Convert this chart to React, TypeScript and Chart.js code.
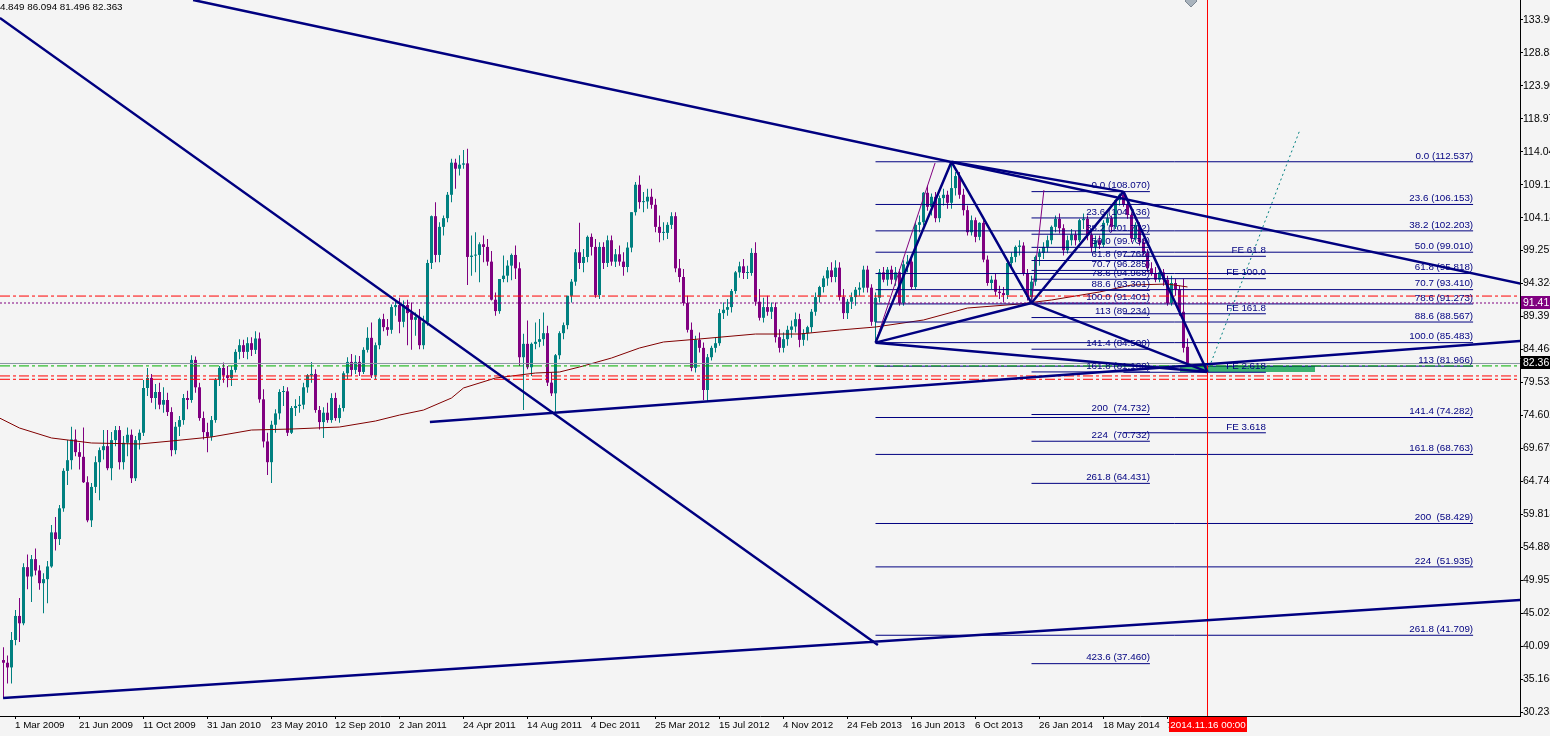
import React, { useEffect, useRef } from 'react';
import { Chart, registerables } from 'chart.js';
Chart.register(...registerables);

// ---------------- DATA ----------------
const FIRST_BAR = -3; // bar index of first candle (index 0 = 1 Mar 2009, weekly)

// weekly candles [open, high, low, close]
const c2009 = [
  [38.0,39.9,32.3,37.6],[37.6,38.7,34.5,36.9],[36.9,42.2,34.5,41.0],[41.0,45.5,40.2,44.6],[44.6,47.3,40.7,43.5],
  [43.5,52.5,43.2,51.9],[51.9,53.8,48.6,50.5],[50.5,53.7,46.7,53.1],[53.1,54.7,50.7,51.4],[51.4,52.2,48.5,49.5],
  [49.5,51.0,45.0,50.1],[50.1,52.8,46.5,52.0],[52.0,58.2,51.8,57.1],[57.1,59.4,54.4,56.1],[56.1,61.2,55.2,60.7],
  [60.7,66.7,60.2,66.3],[66.3,70.9,64.2,67.9],[67.9,72.9,66.5,71.0],[71.0,72.5,68.5,69.1],[69.1,70.5,66.5,68.4],
  [68.4,72.8,64.5,64.6],[64.6,65.5,58.6,58.9],[58.9,64.5,57.9,63.9],[63.9,68.5,63.0,67.6],[67.6,69.8,61.9,69.4],
  [69.4,72.4,68.0,70.0],[70.0,72.4,66.4,66.7],[66.7,72.1,64.9,70.9],[70.9,73.0,70.0,72.4],[72.4,73.0,66.5,67.6],
  [67.6,71.5,66.5,70.5],[70.5,72.8,68.5,71.7],[71.7,72.5,64.5,65.2],[65.2,71.5,64.8,70.9],[70.9,72.5,69.5,72.0],
  [72.0,79.9,71.5,78.7],[78.7,81.7,77.5,80.2],[80.2,80.8,76.5,77.2],[77.2,79.3,75.5,78.1],[78.1,79.5,75.5,76.2],
  [76.2,78.8,75.0,76.9],[76.9,78.0,74.5,75.1],[75.1,75.8,68.5,69.4],[69.4,73.6,68.8,72.9],[72.9,74.5,71.5,73.9],
  [73.9,77.8,73.2,77.2],[77.2,78.3,75.5,76.9],
];
const c2010 = [
  [76.9,83.6,76.5,82.9],[82.9,83.4,78.0,78.8],[78.8,79.5,73.8,74.2],[74.2,75.2,71.0,72.1],[72.1,73.5,69.1,71.4],
  [71.4,74.5,70.8,73.9],[73.9,80.2,73.5,79.9],[79.9,82.0,79.0,81.7],[81.7,82.5,79.5,80.6],[80.6,82.0,78.8,80.2],
  [80.2,82.0,79.0,81.4],[81.4,84.5,81.0,84.1],[84.1,86.0,83.0,85.1],[85.1,85.9,83.2,84.1],[84.1,86.3,83.0,85.4],
  [85.4,86.3,83.5,84.4],[84.4,87.2,83.8,86.1],[86.1,87.0,76.5,77.0],[77.0,78.5,69.8,70.7],[70.7,72.0,65.7,67.6],
  [67.6,73.8,64.5,73.2],[73.2,75.5,72.0,74.9],[74.9,78.5,74.0,78.1],[78.1,79.0,76.0,78.2],[78.2,78.8,71.5,72.0],
  [72.0,76.0,71.8,75.7],[75.7,77.0,74.5,76.0],[76.0,77.5,75.0,76.2],[76.2,79.5,75.5,78.8],[78.8,80.8,78.0,80.6],
  [80.6,82.6,79.5,80.8],[80.8,81.5,75.0,75.4],[75.4,76.0,72.5,73.6],[73.6,75.8,71.2,75.0],[75.0,76.5,73.5,73.9],
  [73.9,77.9,73.5,77.2],[77.2,78.0,73.8,74.2],[74.2,76.2,73.5,75.7],[75.7,81.2,75.2,80.9],[80.9,83.3,80.0,82.6],
  [82.6,83.8,80.5,81.4],[81.4,83.6,80.8,82.6],[82.6,83.5,80.5,81.1],[81.1,84.8,80.8,84.4],[84.4,87.8,84.0,86.2],
  [86.2,88.5,80.2,80.6],[80.6,85.5,80.0,85.1],[85.1,89.2,84.5,89.0],[89.0,89.8,87.2,87.8],[87.8,89.0,86.5,87.4],
  [87.4,91.2,86.8,90.8],[90.8,91.8,89.5,91.1],
];
const c2011 = [
  [91.1,92.2,86.9,88.6],[88.6,91.8,87.8,91.1],[91.1,91.9,85.1,89.9],[89.9,91.5,84.4,88.9],[88.9,90.0,86.5,89.3],
  [89.3,90.5,84.5,85.1],[85.1,89.5,84.5,88.5],[88.5,97.9,88.0,97.4],[97.4,104.5,96.5,104.4],[104.4,106.5,97.5,98.6],
  [98.6,103.5,97.5,102.8],[102.8,104.5,101.5,104.1],[104.1,108.0,103.5,107.6],[107.6,113.0,106.5,112.4],[112.4,113.0,108.5,111.5],
  [111.5,113.5,110.5,112.1],[112.1,114.3,111.5,112.3],[112.3,114.5,94.1,98.3],[98.3,101.5,95.5,98.5],[98.5,102.0,96.0,98.6],
  [98.6,100.5,94.5,100.2],[100.2,101.5,97.5,99.8],[99.8,101.0,97.0,97.6],[97.6,99.2,91.8,91.9],[91.9,93.0,89.5,90.2],
  [90.2,95.0,89.8,95.0],[95.0,98.5,94.5,95.5],[95.5,97.8,94.5,97.0],[97.0,98.8,94.8,98.6],[98.6,100.0,95.0,96.6],
  [96.6,97.5,82.0,83.3],[83.3,86.8,75.4,85.3],[85.3,88.8,81.5,81.8],[81.8,85.5,80.5,85.3],[85.3,88.5,84.5,85.6],
  [85.6,89.0,84.8,86.0],[86.0,90.0,85.0,86.9],[86.9,88.0,79.0,79.5],[79.5,81.0,77.5,77.9],[77.9,83.8,74.9,83.6],
  [83.6,87.2,83.0,86.9],[86.9,88.5,86.0,88.1],[88.1,92.5,87.5,92.5],[92.5,95.0,91.5,94.6],[94.6,99.5,94.0,99.0],
  [99.0,103.4,96.5,97.4],[97.4,99.5,96.0,98.3],[98.3,101.5,97.5,101.3],[101.3,101.8,98.5,99.8],[99.8,101.0,92.2,92.6],
  [92.6,100.5,92.0,99.8],[99.8,100.5,96.5,97.4],
];
const c2012 = [
  [97.4,101.5,96.8,100.8],[100.8,101.5,97.0,97.6],[97.6,99.5,96.8,98.7],[98.7,100.0,97.0,97.6],[97.6,99.0,95.5,96.8],
  [96.8,100.5,96.0,99.7],[99.7,105.0,99.0,105.0],[105.0,109.5,104.5,109.1],[109.1,110.5,105.5,106.5],[106.5,108.0,105.0,106.6],
  [106.6,108.5,105.5,107.3],[107.3,108.5,105.5,106.1],[106.1,107.0,102.0,102.8],[102.8,104.5,100.5,101.9],[101.9,103.5,100.8,101.9],
  [101.9,103.5,101.0,103.1],[103.1,105.0,102.5,104.4],[104.4,105.0,96.0,96.6],[96.6,98.0,94.5,95.3],[95.3,96.5,91.0,91.4],
  [91.4,92.5,87.0,87.4],[87.4,88.5,81.2,81.7],[81.7,86.5,81.0,85.9],[85.9,87.0,84.0,84.7],[84.7,85.5,76.9,78.4],
  [78.4,83.8,76.6,83.3],[83.3,85.0,82.8,84.7],[84.7,86.2,84.0,85.4],[85.4,90.5,85.0,89.9],[89.9,91.5,89.0,90.4],
  [90.4,92.0,89.5,90.8],[90.8,93.5,90.0,93.2],[93.2,96.2,92.8,96.0],[96.0,97.6,95.2,96.9],[96.9,98.0,95.0,95.9],
  [95.9,97.0,95.0,95.9],[95.9,99.6,95.5,98.9],[98.9,100.5,91.0,91.6],[91.6,93.5,88.8,89.2],[89.2,92.2,88.5,90.8],
  [90.8,92.5,89.5,90.1],[90.1,91.5,89.0,90.8],[90.8,91.5,85.5,86.3],[86.3,87.5,84.0,84.7],[84.7,87.0,84.0,86.0],
  [86.0,88.0,85.0,87.4],[87.4,88.8,86.2,87.9],[87.9,90.0,87.0,89.0],[89.0,89.8,84.8,85.9],[85.9,87.5,85.0,86.9],
  [86.9,88.0,85.8,87.8],[87.8,90.5,87.0,90.1],
];
const c2013 = [
  [90.1,93.0,89.5,92.3],[92.3,94.0,91.5,93.8],[93.8,95.5,93.0,95.1],[95.1,96.8,94.0,96.3],[96.3,97.5,94.5,95.3],
  [95.3,97.8,94.5,96.7],[96.7,97.5,91.8,92.3],[92.3,93.5,89.0,89.9],[89.9,92.0,89.0,91.6],[91.6,93.0,90.5,92.3],
  [92.3,93.8,91.0,93.4],[93.4,94.5,92.5,93.7],[93.7,97.0,93.0,96.4],[96.4,97.0,93.0,93.7],[93.7,94.2,88.0,88.6],
  [88.6,93.0,85.483,92.2],[92.2,96.5,91.5,96.0],[96.0,96.8,94.5,94.9],[94.9,96.8,94.0,96.4],[96.4,97.0,94.2,94.9],
  [94.9,96.8,94.0,96.0],[96.0,96.5,91.0,91.4],[91.4,97.8,91.0,97.2],[97.2,98.6,96.0,97.6],[97.6,98.2,93.5,93.8],
  [93.8,103.5,93.5,103.1],[103.1,104.5,102.0,103.5],[103.5,108.0,103.0,107.9],[107.9,109.0,105.2,105.8],[105.8,107.8,104.5,107.3],
  [107.3,108.0,103.5,104.1],[104.1,107.5,103.5,107.1],[107.1,108.5,106.0,107.6],[107.6,108.2,105.5,106.4],[106.4,112.537,105.5,108.6],
  [108.6,111.0,107.5,110.4],[110.4,111.0,107.0,107.6],[107.6,108.5,104.5,105.3],[105.3,106.0,101.5,102.0],[102.0,104.5,101.5,103.8],
  [103.8,104.2,100.5,101.3],[101.3,103.5,100.8,103.4],[103.4,103.8,97.5,97.9],[97.9,98.5,94.0,94.4],[94.4,95.5,93.5,94.9],
  [94.9,95.8,92.5,93.1],[93.1,94.0,92.0,92.9],[92.9,93.8,91.5,92.6],[92.6,97.5,92.0,97.4],[97.4,99.0,96.5,98.3],
  [98.3,100.0,97.5,99.8],[99.8,100.8,98.5,100.0],
];
const c2014 = [
  [100.0,100.5,95.5,95.9],[95.9,96.5,91.8,92.3],[92.3,95.5,91.401,94.6],[94.6,98.5,94.0,98.3],[98.3,99.5,97.0,98.9],
  [98.9,100.5,98.0,99.8],[99.8,101.5,99.0,100.8],[100.8,103.0,100.2,102.8],[102.8,104.5,102.0,104.0],[104.0,104.8,101.8,102.6],
  [102.6,103.2,98.5,99.3],[99.3,101.5,98.8,100.8],[100.8,102.5,100.0,101.6],[101.6,102.2,100.0,100.8],[100.8,104.0,100.5,103.8],
  [103.8,104.8,102.5,104.0],[104.0,104.5,100.8,101.6],[101.6,102.0,99.0,99.8],[99.8,101.5,99.0,100.8],[100.8,101.5,99.5,100.1],
  [100.1,103.8,99.8,103.4],[103.4,104.8,103.0,104.1],[104.1,104.5,102.0,102.8],[102.8,106.9,102.5,106.8],[106.8,107.8,106.0,107.6],
  [107.6,108.07,105.8,106.1],[106.1,106.8,104.0,104.6],[104.6,105.0,100.5,101.1],[101.1,103.5,100.5,103.1],[103.1,103.5,100.0,100.5],
  [100.5,101.0,98.5,98.9],[98.9,99.5,96.0,96.6],[96.6,97.5,95.5,95.9],[95.9,96.8,94.5,94.9],[94.9,96.8,94.5,96.0],
  [96.0,96.5,94.0,94.9],[94.9,95.5,91.0,91.4],[91.4,95.5,91.0,94.4],[94.4,95.0,92.5,93.4],[93.4,94.0,89.5,90.1],
  [90.1,95.0,84.0,84.7],[84.849,86.094,81.496,82.363],
];

// moving average (bar index, value)
const maIdx = [-4,1,9,19,31,39,49,59,69,81,90,96,102,109,112,120,130,136,141,149,156,162,171,185,196,206,215,227,238,251,259,271,279,288,293];
const maVal = [74.21,72.71,71.22,70.47,70.32,70.77,71.37,72.41,72.56,72.86,73.76,74.65,75.40,77.20,78.70,80.19,80.94,81.09,81.84,83.18,84.68,85.58,86.03,86.77,86.77,87.37,87.82,88.87,90.66,91.26,91.86,93.06,94.10,94.25,93.81];

// axis ticks
const xTickIdx = [0,16,32,48,64,80,96,112,128,144,160,176,192,208,224,240,256,272,288];
const xTickLabels = ['1 Mar 2009','21 Jun 2009','11 Oct 2009','31 Jan 2010','23 May 2010','12 Sep 2010','2 Jan 2011','24 Apr 2011','14 Aug 2011','4 Dec 2011','25 Mar 2012','15 Jul 2012','4 Nov 2012','24 Feb 2013','16 Jun 2013','6 Oct 2013','26 Jan 2014','18 May 2014','7 Sep 2014'];
const yTickVals = [30.23,35.16,40.09,45.02,49.95,54.88,59.81,64.74,69.67,74.60,79.53,84.46,89.39,94.32,99.25,104.18,109.11,114.04,118.97,123.90,128.83,133.76];
const yTickLabels = ['30.235','35.168','40.091','45.024','49.957','54.880','59.813','64.746','69.679','74.602','79.535','84.468','89.391','94.324','99.257','104.180','109.113','114.046','118.979','123.902','128.835','133.908'];

// horizontal levels
const redLevels = [92.45, 80.5, 80.0];
const purpleLevel = 91.41;
const greenLevel = 82.0;
const bidPrice = 82.363;
const ohlcText = '84.849 86.094 81.496 82.363';
const cursorIdx = 298;
const cursorLabel = '2014.11.16 00:00';

// fibonacci retracement set A
const fibAPrices = [112.537,106.153,102.203,99.010,95.818,93.410,91.273,88.567,85.483,81.966,74.282,68.763,58.429,51.935,41.709];
const fibALabels = ['0.0 (112.537)','23.6 (106.153)','38.2 (102.203)','50.0 (99.010)','61.8 (95.818)','70.7 (93.410)','78.6 (91.273)','88.6 (88.567)','100.0 (85.483)','113 (81.966)','141.4 (74.282)','161.8 (68.763)','200  (58.429)','224  (51.935)','261.8 (41.709)'];
const fibASpan = [215, 364.4];
// fibonacci retracement set B
const fibBPrices = [108.070,104.136,101.702,99.736,97.768,96.285,94.968,93.301,91.401,89.234,84.500,81.100,74.732,70.732,64.431,37.460];
const fibBLabels = ['0.0 (108.070)','23.6 (104.136)','38.2 (101.702)','50.0 (99.736)','61.8 (97.768)','70.7 (96.285)','78.6 (94.968)','88.6 (93.301)','100.0 (91.401)','113 (89.234)','141.4 (84.500)','161.8 (81.100)','200  (74.732)','224  (70.732)','261.8 (64.431)','423.6 (37.460)'];
const fibBSpan = [254, 283.6];
// fibonacci expansion
const fePrices = [98.4, 95.05, 89.8, 81.05, 72.0];
const feLabels = ['FE 61.8','FE 100.0','FE 161.8','FE 2.618','FE 3.618'];
const feSpan = [277, 312.6];

// harmonic pattern points X A B C D
const patIdx = [215, 234, 254, 277, 298];
const patVal = [85.483, 112.537, 91.401, 108.07, 81.1];
const patLinks = [[0,1],[1,2],[2,3],[3,4],[0,2],[2,4],[1,3],[0,4]];

// trend lines [x1, y1, x2, y2]
const trendLines = [
  [-3.9, 134.05, 215.6, 40.25],
  [44.4, 136.74, 376.2, 94.31],
  [-3.1, 32.32, 376.2, 46.98],
  [103.6, 73.61, 376.2, 85.73],
];
const thinPurpleLines = [
  [215, 85.483, 229.9, 112.36],
  [254, 91.401, 257.1, 108.3],
];
const projectionLine = [298, 81.1, 321.1, 117.3];
const greenZone = [291.1, 324.9, 81.08, 81.98];

// ---------------- STYLE ----------------
const BG = '#f4f4f4';
const TEAL = '#008080';
const PURPLE = '#800080';
const NAVY = '#000080';
const FONT = "'Liberation Sans', Arial, sans-serif";
const X_MIN = -3.875, X_MAX = 376.125;
const Y_MIN = 29.632, Y_MAX = 136.737;

type Pt = { x: number; y: number | null };
function segs(list: number[][]): Pt[] {
  const out: Pt[] = [];
  list.forEach(([x1, y1, x2, y2]) => {
    out.push({ x: x1, y: y1 }, { x: x2, y: y2 }, { x: x2, y: null });
  });
  return out;
}
function lineDs(data: Pt[], color: string, width: number, dash: number[] = [], order = 0) {
  return {
    type: 'line' as const, data, borderColor: color, borderWidth: width, borderDash: dash,
    pointRadius: 0, fill: false, order, spanGaps: false, borderCapStyle: 'butt', tension: 0,
  };
}

export default function App() {
  const ref = useRef<HTMLCanvasElement>(null);
  useEffect(() => {
    document.body.style.margin = '0';
    const candles = [...c2009, ...c2010, ...c2011, ...c2012, ...c2013, ...c2014];
    const colors = candles.map((c) => (c[3] >= c[0] ? TEAL : PURPLE));
    const wickData = candles.map((c, k) => ({ x: FIRST_BAR + k, y: [c[2], c[1]] }));
    const bodyData = candles.map((c, k) => ({ x: FIRST_BAR + k, y: [c[0], c[3]] }));

    const full = (v: number) => [X_MIN, v, X_MAX, v];
    const fibLines = (prices: number[], span: number[]) => prices.map((p) => [span[0], p, span[1], p]);
    const patSegs = patLinks.map(([a, b]) => [patIdx[a], patVal[a], patIdx[b], patVal[b]]);

    const datasets: any[] = [
      lineDs(segs(redLevels.map(full)), '#ff0000', 1, [10, 3, 3, 3], 1),
      lineDs(segs([full(purpleLevel)]), PURPLE, 1, [2, 2], 1),
      lineDs(segs([full(bidPrice)]), '#8a96a3', 1, [], 1),
      lineDs(segs([full(greenLevel)]), '#00b000', 1, [10, 3, 3, 3], 1),
      lineDs(segs(fibLines(fibAPrices, fibASpan)), NAVY, 1, [], 1),
      lineDs(segs(fibLines(fibBPrices, fibBSpan)), NAVY, 1, [], 1),
      lineDs(segs(fibLines(fePrices, feSpan)), NAVY, 1, [], 1),
      lineDs(segs(trendLines), NAVY, 2.5, [], 0),
      lineDs(segs(patSegs), NAVY, 2.5, [], 0),
      lineDs(segs(thinPurpleLines), PURPLE, 1, [], 0),
      lineDs(segs([projectionLine]), TEAL, 1, [2, 3], 0),
      lineDs(segs([[cursorIdx, Y_MIN, cursorIdx, Y_MAX]]), '#ff0000', 1, [], 0),
      {
        type: 'line', data: [{ x: greenZone[0], y: greenZone[3] }, { x: greenZone[1], y: greenZone[3] }],
        borderWidth: 0, pointRadius: 0, backgroundColor: '#3cb371', fill: { value: greenZone[2] }, order: 2,
      },
      lineDs(maIdx.map((x, k) => ({ x, y: maVal[k] })), '#800000', 1, [], 5),
      {
        type: 'bar', data: wickData, backgroundColor: colors, barThickness: 1, grouped: false,
        inflateAmount: 0, borderWidth: 0, order: 20,
      },
      {
        type: 'bar', data: bodyData, backgroundColor: colors, barThickness: 3, grouped: false,
        inflateAmount: 0, borderWidth: 0, minBarLength: 1, order: 19,
      },
    ];

    const annot = {
      id: 'annot',
      afterDraw(chart: any) {
        const { ctx } = chart;
        const xs = chart.scales.x, ys = chart.scales.y;
        const px = (v: number) => xs.getPixelForValue(v);
        const py = (v: number) => ys.getPixelForValue(v);
        ctx.save();
        ctx.font = `9.8px ${FONT}`;
        ctx.fillStyle = NAVY;
        ctx.textAlign = 'right';
        ctx.textBaseline = 'bottom';
        fibAPrices.forEach((p, k) => ctx.fillText(fibALabels[k], px(fibASpan[1]), py(p) - 1));
        fibBPrices.forEach((p, k) => ctx.fillText(fibBLabels[k], px(fibBSpan[1]), py(p) - 1));
        fePrices.forEach((p, k) => ctx.fillText(feLabels[k], px(feSpan[1]), py(p) - 1));

        // price boxes on the axis
        ctx.font = `10.5px ${FONT}`;
        const box = (v: number, txt: string, bg: string) => {
          const y = Math.round(py(v));
          ctx.fillStyle = bg;
          ctx.fillRect(1521, y - 7, 29, 13);
          ctx.fillStyle = '#ffffff';
          ctx.textAlign = 'left';
          ctx.textBaseline = 'middle';
          ctx.fillText(txt, 1523, y);
        };
        box(purpleLevel, purpleLevel.toFixed(2), PURPLE);
        box(bidPrice, bidPrice.toFixed(2), '#000000');

        // cursor date box
        ctx.font = `9.8px ${FONT}`;
        const cx = Math.round(px(cursorIdx));
        ctx.fillStyle = '#ff0000';
        ctx.fillRect(cx - 39, 717, 78, 15);
        ctx.fillStyle = '#ffffff';
        ctx.textAlign = 'center';
        ctx.textBaseline = 'middle';
        ctx.fillText(cursorLabel, cx, 725);

        // OHLC text
        ctx.fillStyle = '#000000';
        ctx.textAlign = 'left';
        ctx.textBaseline = 'top';
        ctx.fillText(ohlcText, -5.5, 2);

        // small marker
        ctx.fillStyle = '#a9b3bd';
        ctx.strokeStyle = '#7d8893';
        ctx.beginPath();
        ctx.moveTo(1191, -5); ctx.lineTo(1197, 1); ctx.lineTo(1191, 7); ctx.lineTo(1185, 1); ctx.closePath();
        ctx.fill(); ctx.stroke();
        ctx.restore();
      },
    };

    const chart = new Chart(ref.current as HTMLCanvasElement, {
      type: 'bar',
      data: { datasets },
      options: {
        animation: false,
        responsive: false,
        maintainAspectRatio: false,
        devicePixelRatio: 1,
        events: [],
        layout: { padding: 0 },
        plugins: { legend: { display: false }, tooltip: { enabled: false } },
        scales: {
          x: {
            type: 'linear', position: 'bottom', min: X_MIN, max: X_MAX, offset: false, bounds: 'data',
            grid: { display: true, drawOnChartArea: false, drawTicks: true, tickLength: 3, tickColor: '#000', tickWidth: 1, offset: false },
            border: { display: true, color: '#000', width: 1 },
            afterBuildTicks: (s: any) => { s.ticks = xTickIdx.map((v) => ({ value: v })); },
            afterFit: (s: any) => { s.height = 20; s.paddingLeft = 0; s.paddingRight = 0; },
            ticks: {
              autoSkip: false, maxRotation: 0, minRotation: 0, align: 'start', padding: 0, labelOffset: -0.5,
              color: '#000', font: { family: FONT, size: 9.8 },
              callback: (_v: any, i: number) => xTickLabels[i],
            },
          },
          y: {
            type: 'linear', position: 'right', min: Y_MIN, max: Y_MAX, bounds: 'data',
            grid: { display: true, drawOnChartArea: false, drawTicks: true, tickLength: 3, tickColor: '#000', tickWidth: 1 },
            border: { display: true, color: '#000', width: 1 },
            afterBuildTicks: (s: any) => { s.ticks = yTickVals.map((v) => ({ value: v })); },
            afterFit: (s: any) => { s.width = 30; s.paddingTop = 0; s.paddingBottom = 0; },
            ticks: {
              autoSkip: false, padding: 0, color: '#000', font: { family: FONT, size: 10.5 },
              callback: (_v: any, i: number) => yTickLabels[i],
            },
          },
        },
      } as any,
      plugins: [annot],
    } as any);
    return () => chart.destroy();
  }, []);

  return (
    <div style={{ position: 'fixed', left: 0, top: 0, width: 1550, height: 736, background: BG }}>
      <canvas ref={ref} width={1550} height={736} style={{ display: 'block' }} />
    </div>
  );
}
